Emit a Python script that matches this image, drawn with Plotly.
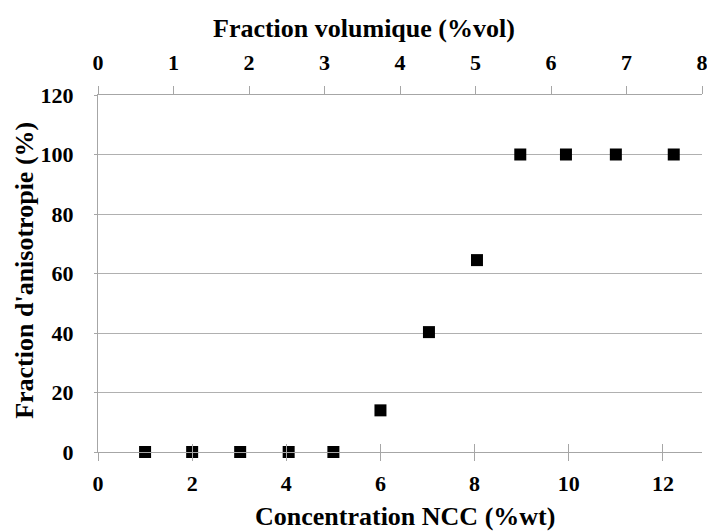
import plotly.graph_objects as go

# Data
conc_wt = [1.0, 2.0, 3.02, 4.05, 5.0, 6.0, 7.03, 8.05, 8.97, 9.94, 11.0, 12.23]
aniso_pct = [0, 0, 0, 0, 0, 14, 40.3, 64.5, 100, 100, 100, 100]

x_bottom_ticks = [0, 2, 4, 6, 8, 10, 12]
x_top_ticks = [0, 1, 2, 3, 4, 5, 6, 7, 8]
y_ticks = [0, 20, 40, 60, 80, 100, 120]

x_title = "Concentration NCC (%wt)"
x2_title = "Fraction volumique (%vol)"
y_title = "Fraction d'anisotropie (%)"

FONT = "Liberation Serif"
AXIS_GRAY = "#a6a6a6"
GRID_GRAY = "#b0b0b0"

fig = go.Figure()
fig.add_trace(go.Scatter(
    x=conc_wt, y=aniso_pct, mode="markers",
    marker=dict(symbol="square", size=12, color="black", line=dict(width=0)),
    showlegend=False, cliponaxis=False,
))
# helper traces that activate the secondary axes
fig.add_trace(go.Scatter(x=[None], y=[None], xaxis="x2", yaxis="y",
                         showlegend=False, hoverinfo="skip"))
fig.add_trace(go.Scatter(x=conc_wt, y=aniso_pct, xaxis="x3", yaxis="y", mode="markers",
                         marker=dict(opacity=0), showlegend=False, hoverinfo="skip"))

tickfont = dict(family=FONT, size=22, color="black")
titlefont = dict(family=FONT, size=26, color="black")

fig.update_layout(
    width=707, height=531,
    margin=dict(l=98, r=5, t=95, b=79, autoexpand=False),
    paper_bgcolor="white", plot_bgcolor="white",
    font=dict(family=FONT, color="black"),
    xaxis=dict(
        range=[0, 12.83], tickvals=x_bottom_ticks,
        ticktext=[f"<b>{v}</b>" for v in x_bottom_ticks],
        tickfont=tickfont, automargin=False, ticklabeloverflow="allow",
        showgrid=False, zeroline=False,
        showline=True, linecolor=AXIS_GRAY, linewidth=1.3,
        ticks="outside", ticklen=8, tickcolor=AXIS_GRAY, tickwidth=1,
        ticklabelstandoff=3,
    ),
    xaxis3=dict(
        range=[0, 12.83], tickvals=x_bottom_ticks, overlaying="x", anchor="y",
        side="bottom", showticklabels=False, showgrid=False, zeroline=False,
        ticks="inside", ticklen=8, tickcolor=AXIS_GRAY, tickwidth=1,
        showline=False, automargin=False,
    ),
    xaxis2=dict(
        range=[0, 8], tickvals=x_top_ticks, overlaying="x", anchor="y",
        side="top",
        ticktext=[f"<b>{v}</b>" for v in x_top_ticks],
        tickfont=tickfont, automargin=False, ticklabeloverflow="allow",
        showgrid=False, zeroline=False,
        showline=True, linecolor=AXIS_GRAY, linewidth=1.3,
        ticks="outside", ticklen=8, tickcolor=AXIS_GRAY, tickwidth=1,
        ticklabelstandoff=7,
    ),
    yaxis=dict(
        range=[0, 120], tickvals=y_ticks,
        ticktext=[f"<b>{v}</b>" for v in y_ticks],
        tickfont=tickfont, automargin=False,
        showgrid=True, gridcolor=GRID_GRAY, gridwidth=1.3,
        zeroline=False,
        showline=True, linecolor=AXIS_GRAY, linewidth=1.3,
        ticks="outside", ticklen=3, tickcolor=AXIS_GRAY,
        ticklabelstandoff=16,
    ),
    annotations=[
        dict(text=f"<b>{x_title}</b>", xref="paper", yref="paper",
             x=0.508, y=-0.182, xanchor="center", yanchor="middle",
             showarrow=False, font=titlefont),
        dict(text=f"<b>{x2_title}</b>", xref="paper", yref="paper",
             x=0.4404, y=1.185, xanchor="center", yanchor="middle",
             showarrow=False, font=titlefont),
        dict(text=f"<b>{y_title}</b>", xref="paper", yref="paper",
             x=-0.121, y=0.51, xanchor="center", yanchor="middle", textangle=-90,
             showarrow=False, font=titlefont),
    ],
)

fig.write_html("out.html", post_script="document.body.style.margin='0';",
               config={"displayModeBar": False})
